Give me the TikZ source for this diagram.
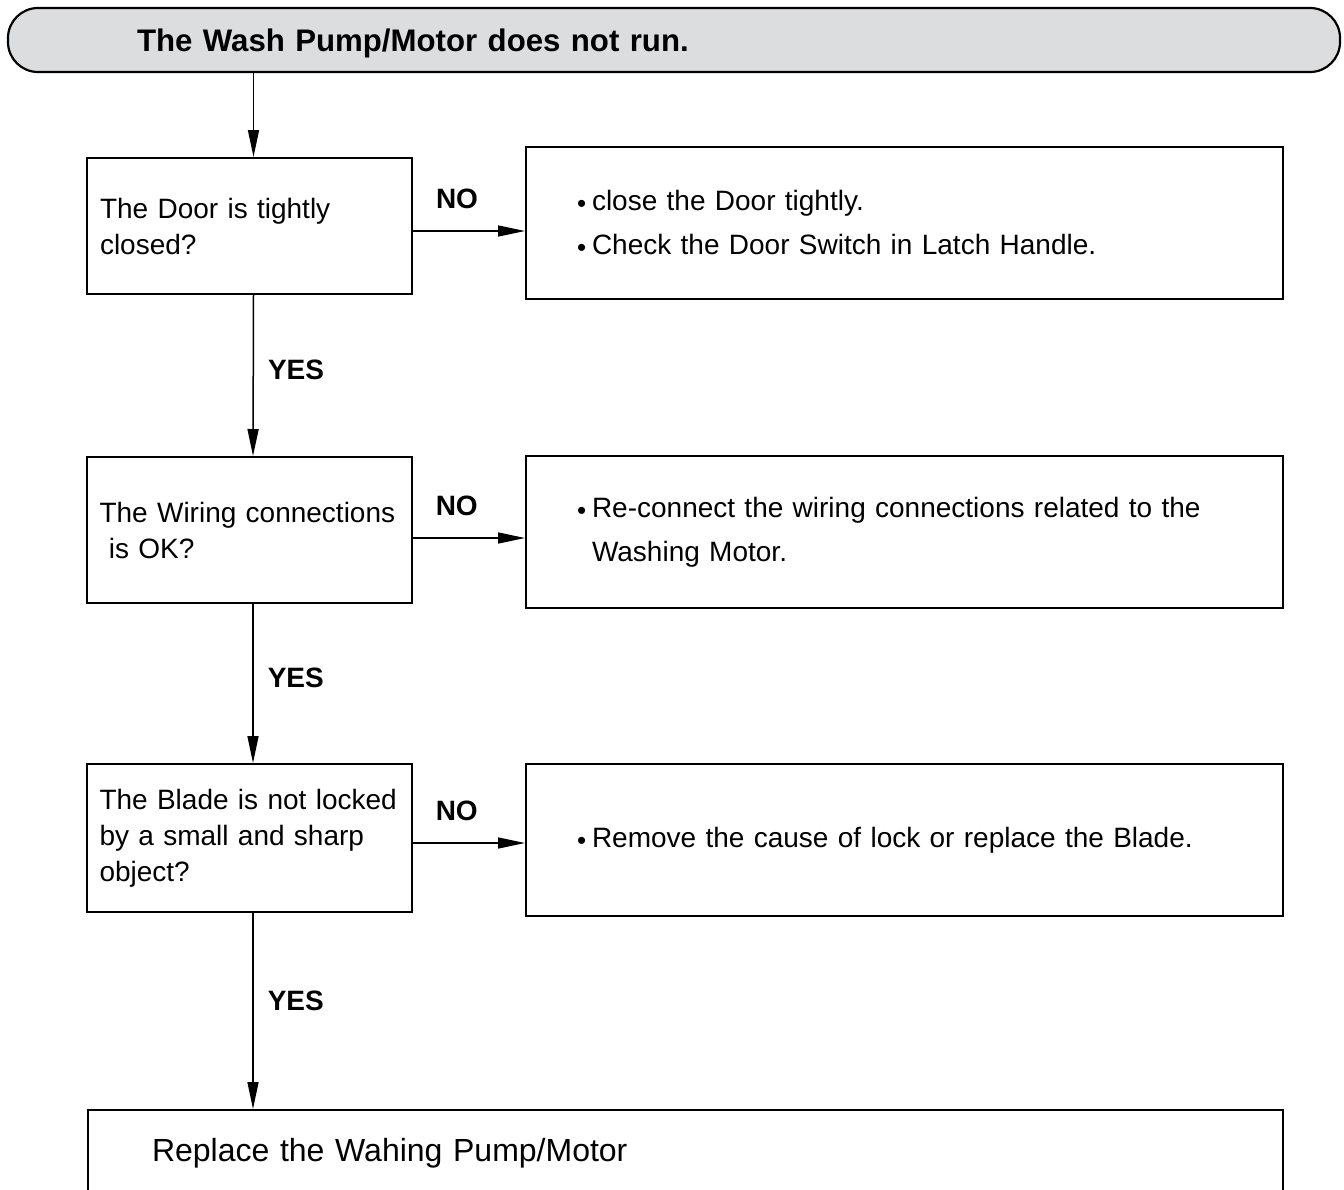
\documentclass[tikz,border=0pt]{standalone}
\usepackage{fontspec}
\setmainfont{Liberation Sans}
\usetikzlibrary{arrows.meta}
\definecolor{barfill}{HTML}{DCDDDF}
\newcommand\bul{\makebox[7.5pt][l]{\fontsize{13}{13}\selectfont\raisebox{-0.15ex}{•}}}
\begin{document}
\begin{tikzpicture}[x=0.5pt,y=-0.5pt,
  >={Triangle[length=13.5pt,width=5.5pt]},
  conn/.style={->, line width=0.75pt},
  titlebar/.style={draw, line width=1.1pt, fill=barfill, rounded corners=15pt, minimum width=666pt, minimum height=32pt, inner xsep=64.5pt, text width=537pt, text height=15pt, align=left, font=\fontsize{15.6}{19}\selectfont\bfseries},
  qbox/.style={draw, line width=1pt, minimum width=162.5pt, minimum height=#1, inner xsep=6.5pt, text width=149.5pt, align=left, font=\fontsize{14}{18}\selectfont},
  abox/.style={draw, line width=1pt, minimum width=378.5pt, minimum height=76pt, inner xsep=25.5pt, text width=327.5pt, align=left, font=\fontsize{14}{22}\selectfont},
  lbl/.style={inner sep=0pt, font=\fontsize{14}{16}\selectfont\bfseries}]
\clip (0,0) rectangle (1344,1189);
\node[titlebar] (title) at (674,40) {The Wash Pump/Motor does not run.};
\node[qbox=68pt] (door) at (249.5,226) {The Door is tightly\\closed?};
\node[qbox=73pt] (wire) at (249,530) {The Wiring connections\\\ is OK?};
\node[qbox=74pt] (blade) at (249,838) {The Blade is not locked\\by a small and sharp\\object?};
\node[abox] (doorfix) at (904.5,223) {\bul close the Door tightly.\\\bul Check the Door Switch in Latch Handle.};
\node[abox] (wirefix) at (904.5,532) {\bul Re-connect the wiring connections related to the\\\hspace*{7.5pt}Washing Motor.};
\node[abox] (bladefix) at (904.5,840) {\bul Remove the cause of lock or replace the Blade.};
\node[draw, line width=1pt, minimum width=597.5pt, minimum height=43pt, inner xsep=32pt, text width=533.5pt, align=left, font=\fontsize{16}{19}\selectfont] (motor) at (685.5,1153) {Replace the Wahing Pump/Motor};
\draw[conn] ([xshift=2pt]door.north |- title.south) -- ([xshift=2pt]door.north);
\draw[conn] ([yshift=-2.5pt]door.east) -- node[lbl, above=10.5pt, xshift=-6pt] {NO} ([yshift=-2.5pt]door.east -| doorfix.west);
\draw[conn] ([yshift=-4pt]wire.east) -- node[lbl, above=10.5pt, xshift=-6pt] {NO} ([yshift=-4pt]wire.east -| wirefix.west);
\draw[conn] ([yshift=-2.5pt]blade.east) -- node[lbl, above=10.5pt, xshift=-6pt] {NO} ([yshift=-2.5pt]blade.east -| bladefix.west);
\draw[conn] ([xshift=2pt]door.south) -- node[lbl, right=7pt, yshift=3pt] {YES} ([xshift=2pt]wire.north);
\draw[conn] ([xshift=2pt]wire.south) -- node[lbl, right=7pt, yshift=3pt] {YES} ([xshift=2pt]blade.north);
\draw[conn] ([xshift=2pt]blade.south) -- node[lbl, right=7pt, yshift=5pt] {YES} ([xshift=2pt]blade.south |- motor.north);
\end{tikzpicture}
\end{document}
